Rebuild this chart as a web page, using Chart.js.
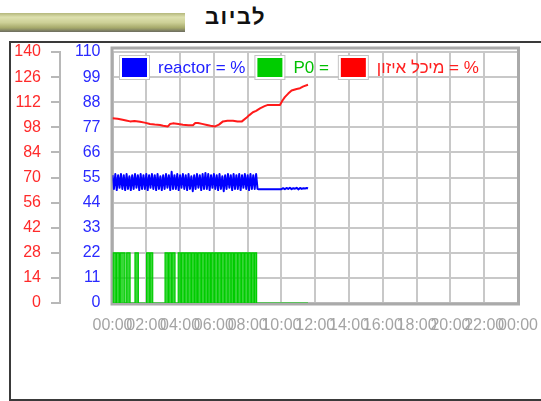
<!DOCTYPE html>
<html>
<head>
<meta charset="utf-8">
<script src="https://cdn.jsdelivr.net/npm/chart.js@4"></script>
<style>
  body { margin: 0; background: #fff; width: 541px; height: 401px; overflow: hidden; position: relative; font-family: Arial, "Liberation Sans", sans-serif; }
  #bar { position: absolute; left: 0; top: 13px; width: 185px; height: 19px;
         background: linear-gradient(to bottom, #b4b77c 0%, #dde0ae 22%, #cdd097 50%, #a6a96a 78%, #6c6c60 100%); }
  #title { position: absolute; left: 205px; top: 4px; font-size: 22px; font-weight: bold; color: #111; direction: rtl; letter-spacing: 1.5px; }
  #box { position: absolute; left: 9px; top: 41px; width: 600px; height: 356px; border: 2px solid #3a3a3a; }
  #chart { position: absolute; left: 0; top: 0; }
</style>
</head>
<body>
<div id="bar"></div>
<div id="title">לביוב</div>
<div id="box"></div>
<canvas id="chart" width="541" height="401"></canvas>
<script>
// series names as shown in the legend
const seriesNames = ['reactor = %', 'P0 =', 'מיכל איזון = %'];

// x axis, hours of the day, one tick every 2 hours
const xTickLabels = ['00:00', '02:00', '04:00', '06:00', '08:00', '10:00', '12:00',
                     '14:00', '16:00', '18:00', '20:00', '22:00', '00:00'];

// reactor %, sampled every 5 minutes from 00:00
const reactorSampleHours = 1 / 12;
const reactorValues = [
  56, 50, 56.5, 49.5, 56, 50.5, 56.5, 50,
  56, 49.5, 56.5, 50, 55.5, 49.5, 56, 50,
  56.5, 50.5, 56, 49.5, 56.5, 50, 56, 50,
  56.5, 49.5, 56, 50.5, 56.5, 50, 56, 49.5,
  56.5, 50, 55.5, 49.5, 56, 50, 56.5, 50.5,
  56, 49.5, 57.5, 50, 56, 50, 56.5, 49.5,
  56, 50.5, 56.5, 50, 56, 49.5, 56.5, 50,
  55.5, 49, 56, 50, 56.5, 50.5, 56, 49.5,
  56.5, 50, 57, 50, 56.5, 49.5, 56, 50.5,
  56.5, 50, 56, 49.5, 56.5, 50, 55.5, 49,
  56, 50, 56.5, 50.5, 56, 49.5, 56.5, 50,
  56, 50, 56.5, 49.5, 56, 50.5, 56.5, 50,
  56, 49.5, 56.5, 50, 56, 50, 56.5, 50
];
// reactor % after the gap
const reactorLateHours = [8.65, 10.0, 10.1, 10.2, 10.3, 10.4, 10.5, 10.6, 10.7, 10.8, 10.9, 11.0, 11.1, 11.2, 11.3, 11.4, 11.5, 11.57];
const reactorLateValues = [49.8, 49.9, 50.3, 49.9, 50.4, 50.0, 50.5, 49.9, 50.3, 50.1, 50.5, 49.8, 50.4, 50.0, 50.3, 50.2, 50.4, 50.2];

// P0 switching times (hours) and the level from that time on
const p0Hours = [0,
  0.03, 0.20, 0.23, 0.40, 0.46, 0.74, 0.84, 1.04, 1.33, 1.53,
  2.02, 2.20, 2.23, 2.38,
  3.11, 3.30, 3.33, 3.50, 3.53, 3.70,
  3.89, 4.05, 4.08, 4.25, 4.28, 4.45, 4.48, 4.65, 4.68, 4.84, 4.87, 5.00,
  5.06, 5.24, 5.27, 5.44, 5.47, 5.62, 5.65, 5.79,
  5.85, 6.02, 6.05, 6.22, 6.25, 6.42, 6.45, 6.62, 6.65, 6.82, 6.85, 7.00, 7.03, 7.16,
  7.22, 7.40, 7.43, 7.60, 7.63, 7.80, 7.83, 8.00, 8.03, 8.20, 8.23, 8.38, 8.41, 8.53,
  11.57];
const p0Values = [0,
  22, 0, 22, 0, 22, 0, 22, 0, 22, 0,
  22, 0, 22, 0,
  22, 0, 22, 0, 22, 0,
  22, 0, 22, 0, 22, 0, 22, 0, 22, 0, 22, 0,
  22, 0, 22, 0, 22, 0, 22, 0,
  22, 0, 22, 0, 22, 0, 22, 0, 22, 0, 22, 0, 22, 0,
  22, 0, 22, 0, 22, 0, 22, 0, 22, 0, 22, 0, 22, 0,
  0];

// balance tank %
const tankHours = [0, 0.3, 0.6, 0.8, 1.04, 1.3, 1.63, 1.9, 2.22, 2.5, 2.81, 3.0, 3.28, 3.4, 3.58,
                   3.9, 4.17, 4.5, 4.76, 4.9, 5.06, 5.3, 5.59, 5.8, 6.07, 6.3, 6.54, 6.8, 7.13,
                   7.4, 7.66, 7.96, 8.1, 8.31, 8.5, 8.73, 9.0, 9.2, 9.91, 10.05, 10.2, 10.4,
                   10.6, 10.9, 11.1, 11.3, 11.57];
const tankValues = [103, 102.8, 102.2, 101.8, 101.3, 101.5, 101.1, 100.6, 99.8, 99.5, 99.3, 98.9, 98.5, 99.8, 100.2,
                    99.8, 99.4, 99.2, 99.1, 100.4, 100.4, 99.9, 99.3, 98.9, 98.5, 99.5, 101.3, 101.6, 101.7,
                    101.2, 101.3, 103.6, 104.8, 106.4, 107.2, 108.6, 109.8, 110.5, 110.5, 112.8, 114.8, 116.8,
                    118.5, 119.4, 119.8, 120.8, 121.7];

const blueColor = '#0000ff';
const greenColor = '#00cc00';
const redColor = '#ff1a1a';

let reactorData = reactorValues.map((v, i) => ({ x: i * reactorSampleHours, y: v }));
reactorLateHours.forEach((h, i) => reactorData.push({ x: h, y: reactorLateValues[i] }));
let p0Data = p0Hours.map((h, i) => ({ x: h, y: p0Values[i] }));
let tankData = tankHours.map((h, i) => ({ x: h, y: tankValues[i] }));

Chart.defaults.font.family = 'Arial, "Liberation Sans", sans-serif';
Chart.defaults.font.size = 16;

// grey frame round the plot
const framePlugin = {
  id: 'frame',
  beforeDatasetsDraw(chart) {
    const { ctx, chartArea: a } = chart;
    ctx.save();
    ctx.strokeStyle = '#aaaaaa';
    ctx.lineWidth = 3;
    ctx.strokeRect(a.left - 0.5, a.top - 4, a.right - a.left + 1, a.bottom - a.top + 5);
    ctx.restore();
  }
};

// legend drawn inside the plot area
const legendPlugin = {
  id: 'innerLegend',
  afterDatasetsDraw(chart) {
    const { ctx, chartArea: a } = chart;
    let x = a.left + 9.5;
    const y = a.top + 6;
    ctx.save();
    ctx.font = '17px Arial, "Liberation Sans", sans-serif';
    ctx.textBaseline = 'middle';
    chart.data.datasets.forEach(ds => {
      ctx.fillStyle = '#ffffff';
      ctx.fillRect(x - 2, y - 2, 29, 23);
      ctx.strokeStyle = '#c4c4c4';
      ctx.lineWidth = 1;
      ctx.strokeRect(x - 2.5, y - 2.5, 30, 24);
      ctx.fillStyle = ds.boxColor;
      ctx.fillRect(x, y, 25, 19);
      x += 36;
      ctx.fillStyle = ds.textColor;
      ctx.fillText(ds.label, x, y + 10);
      x += ctx.measureText(ds.label).width + 12;
    });
    ctx.restore();
  }
};

const ctx = document.getElementById('chart').getContext('2d');
new Chart(ctx, {
  type: 'line',
  data: {
    datasets: [{
      label: seriesNames[0],
      data: reactorData,
      yAxisID: 'yBlue',
      borderColor: blueColor,
      borderWidth: 2,
      borderJoinStyle: 'round',
      pointRadius: 0,
      boxColor: blueColor,
      textColor: '#2020ff'
    }, {
      label: seriesNames[1],
      data: p0Data,
      yAxisID: 'yBlue',
      borderColor: greenColor,
      borderWidth: 1.2,
      stepped: true,
      fill: { target: 'origin', above: 'rgba(0, 204, 0, 0.78)' },
      pointRadius: 0,
      boxColor: greenColor,
      textColor: '#00c000'
    }, {
      label: seriesNames[2],
      data: tankData,
      yAxisID: 'yRed',
      borderColor: redColor,
      borderWidth: 2,
      borderJoinStyle: 'round',
      pointRadius: 0,
      boxColor: '#ff0000',
      textColor: '#ff2020'
    }]
  },
  options: {
    responsive: false,
    animation: false,
    layout: { padding: { left: 0, right: 23, top: 52, bottom: 57 } },
    plugins: { legend: { display: false }, tooltip: { enabled: false } },
    scales: {
      x: {
        type: 'linear', min: 0, max: 24,
        ticks: {
          stepSize: 2, autoSkip: false, maxRotation: 0, minRotation: 0,
          color: '#a4a4a4', padding: 13,
          callback: (v, i) => xTickLabels[i]
        },
        grid: { color: '#c8c8c8', lineWidth: 2, drawTicks: false },
        border: { display: false },
        afterFit: s => { s.height = 41; s.paddingLeft = 0; s.paddingRight = 0; }
      },
      yBlue: {
        position: 'left', weight: 0, min: 0, max: 110,
        ticks: { stepSize: 11, color: '#2a2aff', padding: 12 },
        grid: { color: '#c8c8c8', lineWidth: 2, drawTicks: false },
        border: { display: false },
        afterFit: s => { s.width = 52.5; }
      },
      yRed: {
        position: 'left', weight: 1, min: 0, max: 140,
        ticks: { stepSize: 14, color: '#ff2a2a', padding: 10 },
        grid: { drawOnChartArea: false, drawTicks: true, tickLength: 9, color: '#b8b8b8', lineWidth: 2 },
        border: { display: true, color: '#b8b8b8', width: 2 },
        afterFit: s => { s.width = 60; }
      }
    }
  },
  plugins: [framePlugin, legendPlugin]
});
</script>
</body>
</html>
